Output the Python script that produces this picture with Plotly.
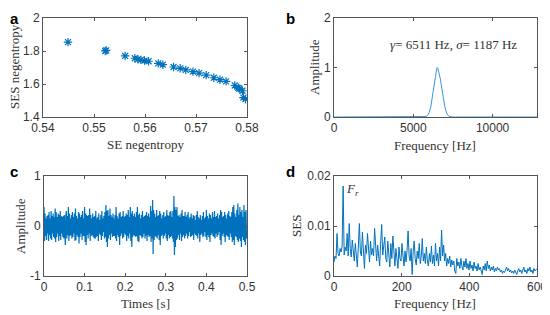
import plotly.graph_objects as go
import numpy as np

# ---- panel a: negentropy scatter
se_neg = [0.5449, 0.5522, 0.5524, 0.5561, 0.5580, 0.5586, 0.5592, 0.5599, 0.5607,
          0.5626, 0.5635, 0.5656, 0.5669, 0.5680, 0.5694, 0.5706, 0.5720, 0.5735,
          0.5747, 0.5759, 0.5776, 0.5783, 0.5785, 0.5791, 0.5793, 0.5797]
ses_neg = [1.854, 1.800, 1.804, 1.770, 1.756, 1.750, 1.746, 1.742, 1.738,
           1.725, 1.717, 1.703, 1.695, 1.685, 1.675, 1.666, 1.654, 1.638,
           1.626, 1.616, 1.591, 1.577, 1.572, 1.559, 1.518, 1.508]

# ---- panel b: filter band
filt_freq = [0, 5600, 5800, 5900, 6000, 6100, 6200, 6300, 6400, 6450, 6500, 6550,
             6600, 6700, 6800, 6900, 7000, 7100, 7200, 7300, 7450, 12800]
filt_amp = [0, 0, 0.01, 0.03, 0.09, 0.2, 0.38, 0.6, 0.82, 0.93, 1.0, 0.98,
            0.93, 0.78, 0.57, 0.36, 0.19, 0.08, 0.03, 0.01, 0, 0]

# ---- panel c: filtered time signal (dt = 1.25 ms)
sig_dt = 0.00125
signal = [
    0.38, -0.3, 0.25, -0.2, 0.15, -0.28, 0.2, -0.15, 0.22, -0.3, 0.28, -0.18, 0.15, -0.25, 0.3, -0.28, 0.2, -0.15, 0.25, -0.22,
    0.18, -0.25, 0.35, -0.32, 0.28, -0.22, 0.18, -0.15, 0.25, -0.3, 0.22, -0.2, 0.3, -0.28, 0.2, -0.15, 0.18, -0.22, 0.2, -0.25,
    0.22, -0.28, -0.38, 0.2, 0.3, -0.25, 0.2, -0.18, 0.38, -0.3, 0.25, -0.2, 0.15, -0.18, 0.22, -0.25, 0.28, -0.22, 0.18, -0.15,
    0.25, -0.3, 0.35, -0.28, 0.2, -0.18, 0.15, -0.22, 0.28, -0.35, 0.25, -0.22, 0.18, -0.15, 0.22, -0.28, 0.3, -0.2, 0.15, -0.2,
    0.38, -0.32, 0.25, -0.38, 0.22, -0.18, 0.2, -0.25, 0.22, -0.15, 0.35, -0.3, 0.22, -0.2, 0.15, -0.18, 0.25, -0.22, 0.18, -0.25,
    0.2, -0.25, 0.3, -0.22, 0.15, -0.2, 0.18, -0.3, 0.25, -0.15, 0.12, -0.18, 0.22, -0.28, 0.3, -0.2, 0.15, -0.12, 0.2, -0.25,
    0.28, -0.22, 0.42, -0.32, 0.3, -0.42, 0.32, -0.25, 0.2, -0.18, 0.35, -0.28, 0.22, -0.15, 0.18, -0.22, 0.25, -0.2, 0.15, -0.2,
    0.22, -0.25, 0.38, -0.3, 0.2, -0.18, 0.15, -0.22, 0.25, -0.38, 0.28, -0.2, 0.18, -0.15, 0.2, -0.25, 0.3, -0.22, 0.18, -0.15,
    0.2, -0.18, 0.25, -0.3, 0.22, -0.2, 0.32, -0.25, 0.18, -0.15, 0.38, -0.3, 0.25, -0.42, 0.3, -0.22, 0.2, -0.18, 0.25, -0.2,
    0.18, -0.22, 0.28, -0.2, 0.38, -0.3, 0.22, -0.32, 0.25, -0.18, 0.15, -0.2, 0.22, -0.25, 0.3, -0.22, 0.18, -0.15, 0.2, -0.25,
    0.22, -0.2, 0.28, -0.3, 0.2, -0.18, 0.25, -0.22, 0.18, -0.2, 0.4, -0.32, 0.3, -0.25, 0.52, -0.56, 0.32, -0.28, 0.25, -0.2,
    0.18, -0.22, 0.32, -0.25, 0.2, -0.18, 0.22, -0.28, 0.3, -0.38, 0.25, -0.2, 0.15, -0.18, 0.22, -0.25, 0.28, -0.2, 0.18, -0.15,
    0.2, -0.25, 0.32, -0.3, 0.22, -0.18, 0.2, -0.25, 0.28, -0.22, 0.3, -0.2, 0.18, -0.25, 0.3, -0.32, 0.6, -0.58, 0.38, -0.42,
    0.32, -0.28, 0.38, -0.25, 0.2, -0.18, 0.22, -0.28, 0.18, -0.15, 0.25, -0.3, 0.32, -0.22, 0.2, -0.18, 0.2, -0.25, 0.28, -0.2,
    0.18, -0.15, 0.22, -0.25, 0.28, -0.2, 0.15, -0.12, 0.18, -0.22, 0.25, -0.2, 0.15, -0.18, 0.22, -0.28, 0.2, -0.15, 0.12, -0.18,
    0.22, -0.2, 0.3, -0.25, 0.18, -0.15, 0.15, -0.32, 0.22, -0.18, 0.12, -0.15, 0.2, -0.22, 0.28, -0.2, 0.15, -0.12, 0.18, -0.22,
    0.32, -0.28, 0.2, -0.18, 0.15, -0.22, 0.25, -0.32, 0.22, -0.18, 0.15, -0.15, 0.28, -0.2, 0.18, -0.22, 0.3, -0.25, 0.18, -0.15,
    0.2, -0.22, 0.25, -0.18, 0.15, -0.12, 0.22, -0.28, 0.32, -0.38, 0.28, -0.2, 0.18, -0.15, 0.2, -0.22, 0.28, -0.32, 0.22, -0.18,
    0.15, -0.2, 0.25, -0.22, 0.3, -0.28, 0.2, -0.15, 0.18, -0.22, 0.28, -0.32, 0.38, -0.28, 0.42, -0.38, 0.25, -0.2, 0.18, -0.22,
    0.32, -0.28, 0.45, -0.32, 0.22, -0.25, 0.38, -0.3, 0.28, -0.42, 0.32, -0.22, 0.18, -0.28, 0.42, -0.32, 0.28, -0.38, 0.32, -0.25,
]

# ---- panel d: squared envelope spectrum (3 Hz bins)
ses_df = 3
ses = [
    0.0028, 0.0040, 0.0035, 0.0085, 0.0045, 0.0040, 0.0055, 0.0048, 0.0060, 0.0180,
    0.0042, 0.0058, 0.0050, 0.0085, 0.0040, 0.0105, 0.0055, 0.0038, 0.0072, 0.0045,
    0.0030, 0.0065, 0.0040, 0.0018, 0.0060, 0.0105, 0.0048, 0.0040, 0.0088, 0.0035,
    0.0015, 0.0062, 0.0045, 0.0085, 0.0050, 0.0028, 0.0070, 0.0042, 0.0055, 0.0040,
    0.0095, 0.0045, 0.0030, 0.0062, 0.0040, 0.0020, 0.0068, 0.0103, 0.0042, 0.0060,
    0.0078, 0.0035, 0.0028, 0.0070, 0.0040, 0.0018, 0.0065, 0.0035, 0.0080, 0.0038,
    0.0020, 0.0055, 0.0030, 0.0015, 0.0058, 0.0035, 0.0030, 0.0065, 0.0040, 0.0020,
    0.0050, 0.0028, 0.0052, 0.0090, 0.0040, 0.0030, 0.0055, 0.0003, 0.0048, 0.0070,
    0.0035, 0.0022, 0.0050, 0.0035, 0.0065, 0.0025, 0.0040, 0.0075, 0.0030, 0.0045,
    0.0025, 0.0058, 0.0030, 0.0020, 0.0045, 0.0028, 0.0060, 0.0025, 0.0042, 0.0020,
    0.0065, 0.0030, 0.0045, 0.0020, 0.0058, 0.0030, 0.0092, 0.0040, 0.0062, 0.0030,
    0.0045, 0.0020, 0.0035, 0.0025, 0.0040, 0.0018, 0.0032, 0.0022, 0.0030, 0.0010,
    0.0005, 0.0035, 0.0020, 0.0028, 0.0015, 0.0035, 0.0020, 0.0012, 0.0030, 0.0018,
    0.0035, 0.0015, 0.0025, 0.0012, 0.0030, 0.0015, 0.0022, 0.0010, 0.0028, 0.0015,
    0.0020, 0.0010, 0.0025, 0.0012, 0.0018, 0.0008, 0.0003, 0.0020, 0.0012, 0.0025,
    0.0010, 0.0030, 0.0015, 0.0022, 0.0010, 0.0018, 0.0012, 0.0020, 0.0008, 0.0015,
    0.0010, 0.0018, 0.0012, 0.0015, 0.0008, 0.0012, 0.0005, 0.0010, 0.0007, 0.0012,
    0.0018, 0.0010, 0.0015, 0.0008, 0.0012, 0.0006, 0.0010, 0.0005, 0.0012, 0.0008,
    0.0003, 0.0010, 0.0015, 0.0008, 0.0012, 0.0005, 0.0010, 0.0018, 0.0008, 0.0012,
    0.0005, 0.0015, 0.0010, 0.0018, 0.0008, 0.0012, 0.0005, 0.0015, 0.0010, 0.0012,
    0.0015,
]

t = np.arange(len(signal)) * sig_dt
f_ses = np.arange(len(ses)) * ses_df

BLUE = "#0072BD"
SANS = "Liberation Sans, Arial, sans-serif"
SERIF = "Liberation Serif, Times New Roman, serif"

fig = go.Figure()
fig.add_trace(go.Scatter(x=se_neg, y=ses_neg, mode="markers",
                         marker=dict(symbol="asterisk-open", size=7, color=BLUE,
                                     line=dict(color=BLUE, width=1.2)),
                         xaxis="x", yaxis="y"))
fig.add_trace(go.Scatter(x=filt_freq, y=filt_amp, mode="lines",
                         line=dict(color="#3d95d6", width=1), xaxis="x2", yaxis="y2"))
fig.add_trace(go.Scatter(x=t, y=signal, mode="lines",
                         line=dict(color=BLUE, width=1.2), xaxis="x3", yaxis="y3"))
fig.add_trace(go.Scatter(x=f_ses, y=ses, mode="lines",
                         line=dict(color=BLUE, width=1), xaxis="x4", yaxis="y4"))

# page body has an 8px margin, so work in screen pixels minus that offset
W, H, OFF = 550, 315, 8
def dom_x(a, b): return [(a - OFF) / W, (b - OFF) / W]
def dom_y(top, bot): return [1 - (bot - OFF) / H, 1 - (top - OFF) / H]

def ax(domain, rng, vals, text, anchor):
    return dict(domain=domain, range=rng, tickvals=vals, ticktext=text, anchor=anchor,
                automargin=False, showgrid=False, zeroline=False, showline=True,
                linecolor="#555", linewidth=1, mirror="ticks", ticks="inside", ticklen=3,
                tickcolor="#555", tickfont=dict(family=SANS, size=12, color="#333"))

fig.update_layout(
    width=W, height=H, margin=dict(l=0, r=0, t=0, b=0),
    paper_bgcolor="white", plot_bgcolor="white", showlegend=False,
    xaxis=ax(dom_x(43, 247), [0.54, 0.58], [0.54, 0.55, 0.56, 0.57, 0.58],
             ["0.54", "0.55", "0.56", "0.57", "0.58"], "y"),
    yaxis=ax(dom_y(18, 117), [1.4, 2.0], [1.4, 1.6, 1.8, 2.0],
             ["1.4", "1.6", "1.8", "2"], "x"),
    xaxis2=ax(dom_x(334, 537), [0, 12800], [0, 5000, 10000], ["0", "5000", "10000"], "y2"),
    yaxis2=ax(dom_y(18, 117), [0, 2], [0, 1, 2], ["0", "1", "2"], "x2"),
    xaxis3=ax(dom_x(44, 247), [0, 0.5], [0, 0.1, 0.2, 0.3, 0.4, 0.5],
              ["0", "0.1", "0.2", "0.3", "0.4", "0.5"], "y3"),
    yaxis3=ax(dom_y(176, 276), [-1, 1], [-1, 0, 1], ["-1", "0", "1"], "x3"),
    xaxis4=ax(dom_x(334, 537), [0, 600], [0, 200, 400, 600], ["0", "200", "400", "600"], "y4"),
    yaxis4=ax(dom_y(176, 276), [0, 0.02], [0, 0.01, 0.02], ["0", "0.01", "0.02"], "x4"),
)

def txt(x, y, s, size=13, family=SERIF, angle=0, color="#333",
        xanchor="center", yanchor="middle"):
    fig.add_annotation(x=(x - OFF) / W, y=1 - (y - OFF) / H, xref="paper", yref="paper",
                       text=s, showarrow=False, textangle=angle,
                       xanchor=xanchor, yanchor=yanchor,
                       font=dict(family=family, size=size, color=color))

# axis titles
txt(145, 144, "SE negentropy")
txt(14, 67, "SES negentropy", angle=-90)
txt(435, 145, "Frequency [Hz]")
txt(314, 67, "Amplitude", angle=-90)
txt(145, 303, "Times [s]")
txt(20, 226, "Amplitude", angle=-90)
txt(435, 303, "Frequency [Hz]")
txt(296, 226, "SES", angle=-90)

# panel letters (anchored top-left so the glyphs stay inside the page)
for lx, ly, s in [(8, 8, "a"), (284, 8, "b"), (8, 161, "c"), (284, 161, "d")]:
    txt(lx, ly, f"<b>{s}</b>", size=15, family=SANS, color="black",
        xanchor="left", yanchor="top")

# in-plot notes
txt(453, 44, "<i>γ</i>= 6511 Hz, <i>σ</i>= 1187 Hz")
fig.add_annotation(x=30, y=0.0195, xref="x4", yref="y4", text="<i>F<sub>r</sub></i>",
                   showarrow=False, xanchor="left", yanchor="top",
                   font=dict(family=SERIF, size=13, color="#333"))

fig.write_html("out.html")
